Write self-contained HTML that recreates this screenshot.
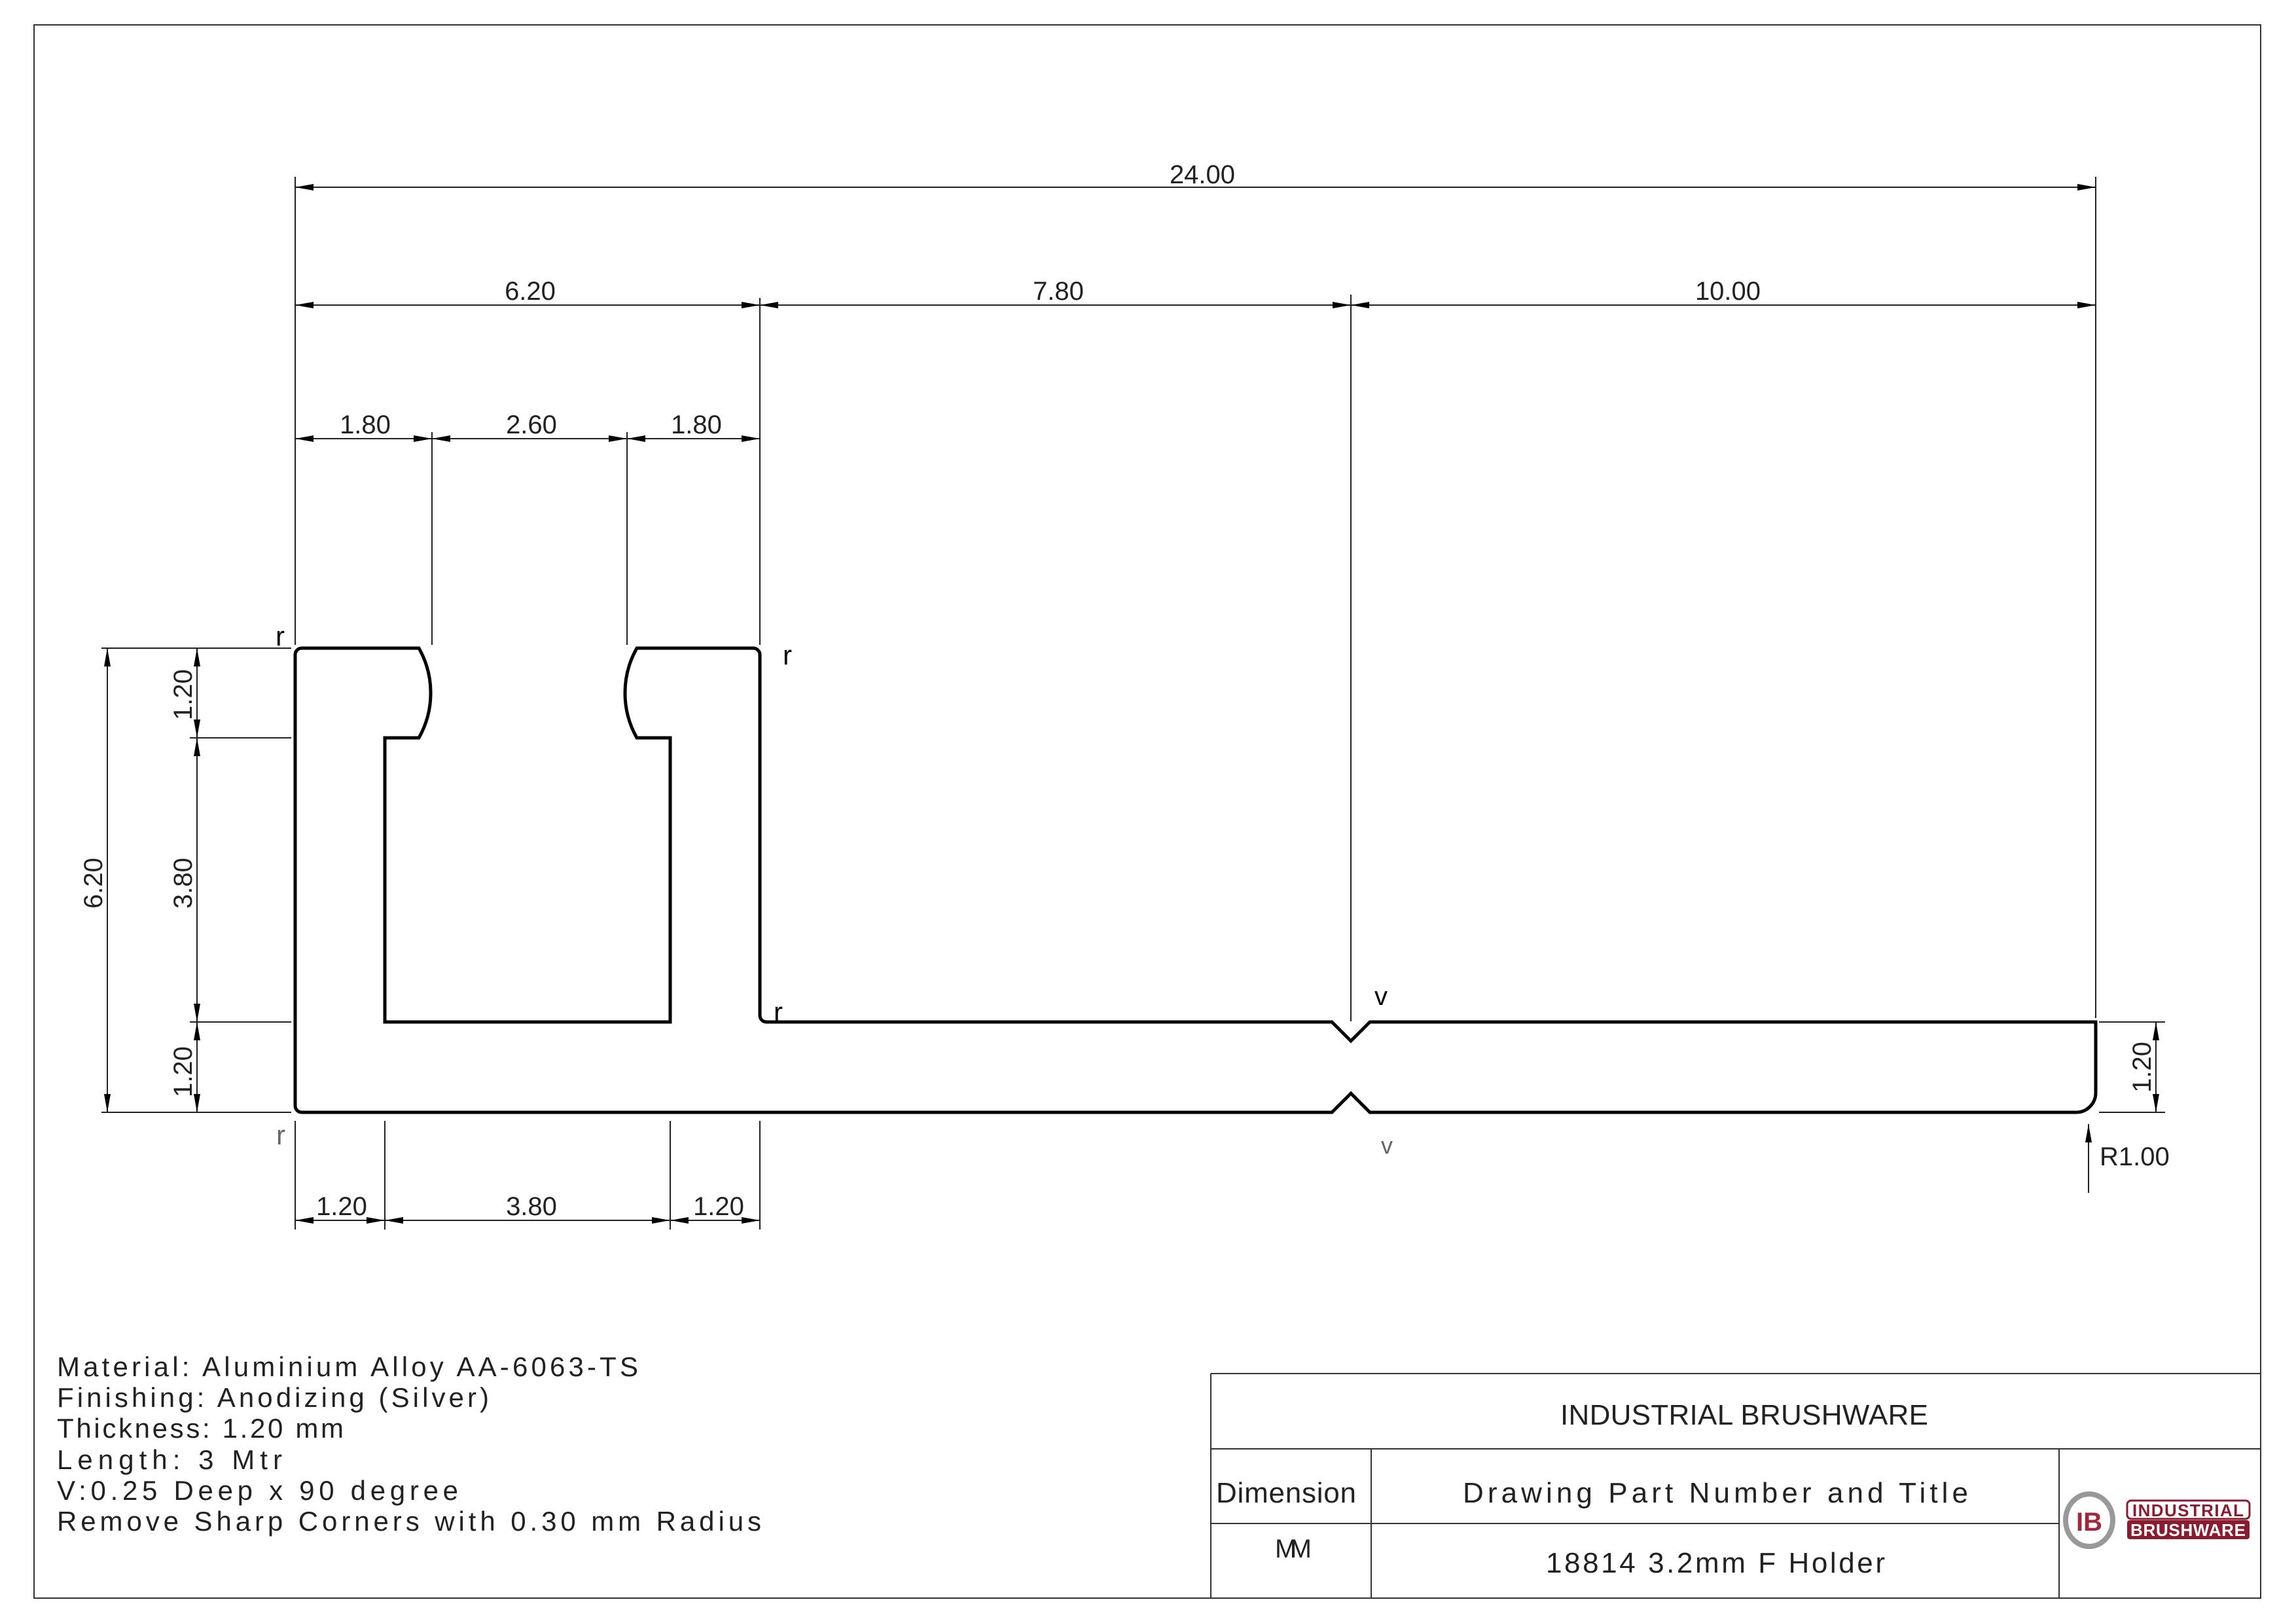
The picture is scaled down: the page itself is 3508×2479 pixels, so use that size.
<!DOCTYPE html>
<html><head><meta charset="utf-8"><style>
html,body{margin:0;padding:0;background:#fff;}
svg{display:block;}
text{font-family:"Liberation Sans",sans-serif;fill:#222;}
.d{font-size:40px;text-anchor:middle;}
.n{font-size:42px;}
</style></head><body>
<svg width="3508" height="2479" viewBox="0 0 3508 2479" xmlns="http://www.w3.org/2000/svg">
<defs>
<marker id="a" markerUnits="userSpaceOnUse" markerWidth="30" markerHeight="12" refX="28" refY="5" orient="auto-start-reverse">
<path d="M0,0 L28,5 L0,10 Z" fill="#000"/></marker>
</defs>
<rect x="52" y="38" width="3402" height="2403" fill="none" stroke="#333" stroke-width="2"/>

<path d="M461,990 H640 A139,139 0 0 1 640,1127 H588 V1561 H1024 V1127 H973 A139,139 0 0 1 973,990 H1151 A10,10 0 0 1 1161,1000 V1551 A10,10 0 0 0 1171,1561 H2035 L2064,1590 L2093,1561 H3202 V1669 A30,30 0 0 1 3172,1699 H2093 L2064,1670 L2035,1699 H461 A10,10 0 0 1 451,1689 V1000 A10,10 0 0 1 461,990 Z" fill="none" stroke="#000" stroke-width="5"/>

<g stroke="#222" stroke-width="2" fill="none">
<line x1="451" y1="270" x2="451" y2="985"/>
<line x1="1161" y1="455" x2="1161" y2="985"/>
<line x1="2064" y1="450" x2="2064" y2="1560"/>
<line x1="3202" y1="270" x2="3202" y2="1555"/>
<line x1="660" y1="660" x2="660" y2="985"/>
<line x1="958" y1="660" x2="958" y2="985"/>
<line x1="155" y1="990" x2="445" y2="990"/>
<line x1="290" y1="1127" x2="445" y2="1127"/>
<line x1="290" y1="1561" x2="445" y2="1561"/>
<line x1="155" y1="1699" x2="445" y2="1699"/>
<line x1="451" y1="1712" x2="451" y2="1878"/>
<line x1="588" y1="1712" x2="588" y2="1878"/>
<line x1="1024" y1="1712" x2="1024" y2="1878"/>
<line x1="1161" y1="1712" x2="1161" y2="1878"/>
<line x1="3207" y1="1561" x2="3308" y2="1561"/>
<line x1="3207" y1="1699" x2="3308" y2="1699"/>
</g>
<g stroke="#222" stroke-width="2" fill="none" marker-start="url(#a)" marker-end="url(#a)">
<line x1="451" y1="286" x2="3202" y2="286"/>
<line x1="451" y1="466" x2="1161" y2="466"/>
<line x1="1161" y1="466" x2="2064" y2="466"/>
<line x1="2064" y1="466" x2="3202" y2="466"/>
<line x1="451" y1="670" x2="660" y2="670"/>
<line x1="660" y1="670" x2="958" y2="670"/>
<line x1="958" y1="670" x2="1161" y2="670"/>
<line x1="451" y1="1864" x2="588" y2="1864"/>
<line x1="588" y1="1864" x2="1024" y2="1864"/>
<line x1="1024" y1="1864" x2="1161" y2="1864"/>
<line x1="164" y1="990" x2="164" y2="1699"/>
<line x1="301" y1="990" x2="301" y2="1127"/>
<line x1="301" y1="1127" x2="301" y2="1561"/>
<line x1="301" y1="1561" x2="301" y2="1699"/>
<line x1="3294" y1="1561" x2="3294" y2="1699"/>
</g>
<line x1="3191" y1="1822" x2="3191" y2="1717" stroke="#222" stroke-width="2" marker-end="url(#a)"/>

<text class="d" x="1837" y="280">24.00</text>
<text class="d" x="810" y="458">6.20</text>
<text class="d" x="1617" y="458">7.80</text>
<text class="d" x="2640" y="458">10.00</text>
<text class="d" x="558" y="662">1.80</text>
<text class="d" x="812" y="662">2.60</text>
<text class="d" x="1064" y="662">1.80</text>
<text class="d" x="522" y="1856">1.20</text>
<text class="d" x="812" y="1856">3.80</text>
<text class="d" x="1098" y="1856">1.20</text>
<text class="d" transform="translate(156,1349) rotate(-90)">6.20</text>
<text class="d" transform="translate(293,1061) rotate(-90)">1.20</text>
<text class="d" transform="translate(293,1349) rotate(-90)">3.80</text>
<text class="d" transform="translate(293,1637) rotate(-90)">1.20</text>
<text class="d" transform="translate(3286,1630) rotate(-90)">1.20</text>
<text x="3208" y="1780" style="font-size:40px">R1.00</text>

<text x="421" y="986" style="font-size:42px;fill:#000">r</text>
<text x="1196" y="1015" style="font-size:42px;fill:#000">r</text>
<text x="1182" y="1560" style="font-size:42px;fill:#000">r</text>
<text x="422" y="1748" style="font-size:42px;fill:#666">r</text>
<text x="2100" y="1535" style="font-size:40px;fill:#000">v</text>
<text x="2110" y="1762" style="font-size:36px;fill:#666">v</text>

<text class="n" x="87" y="2102" textLength="888">Material: Aluminium Alloy AA-6063-TS</text>
<text class="n" x="87" y="2149" textLength="660">Finishing: Anodizing (Silver)</text>
<text class="n" x="87" y="2196" textLength="438">Thickness: 1.20 mm</text>
<text class="n" x="87" y="2244" textLength="344">Length: 3 Mtr</text>
<text class="n" x="87" y="2291" textLength="613">V:0.25 Deep x 90 degree</text>
<text class="n" x="87" y="2338" textLength="1076">Remove Sharp Corners with 0.30 mm Radius</text>

<g stroke="#333" stroke-width="2" fill="none">
<line x1="1850" y1="2098" x2="3454" y2="2098"/>
<line x1="1850" y1="2098" x2="1850" y2="2441"/>
<line x1="1850" y1="2213" x2="3454" y2="2213"/>
<line x1="2095" y1="2213" x2="2095" y2="2441"/>
<line x1="3146" y1="2213" x2="3146" y2="2441"/>
<line x1="1850" y1="2327" x2="3146" y2="2327"/>
</g>
<text x="2384" y="2176" style="font-size:44px" textLength="562">INDUSTRIAL BRUSHWARE</text>
<text x="1858" y="2295" style="font-size:44px" textLength="214">Dimension</text>
<text x="2235" y="2295" style="font-size:44px" textLength="772">Drawing Part Number and Title</text>
<text x="1948" y="2379" style="font-size:40px" textLength="56">MM</text>
<text x="2362" y="2402" style="font-size:44px" textLength="518">18814 3.2mm F Holder</text>

<ellipse cx="3192" cy="2322" rx="36" ry="40" fill="none" stroke="#999" stroke-width="8"/>
<text x="3192" y="2338" style="font-size:40px;font-weight:bold;fill:#a0283c;text-anchor:middle">IB</text>
<rect x="3250" y="2292" width="187" height="28" rx="6" fill="#fff" stroke="#8a1c30" stroke-width="3"/>
<text x="3343" y="2316" style="font-size:26px;font-weight:bold;fill:#8a1c30;text-anchor:middle" textLength="170">INDUSTRIAL</text>
<rect x="3250" y="2322" width="187" height="29" rx="4" fill="#8a1c30"/>
<text x="3343" y="2346" style="font-size:26px;font-weight:bold;fill:#fff;text-anchor:middle" textLength="176">BRUSHWARE</text>
</svg>
</body></html>
